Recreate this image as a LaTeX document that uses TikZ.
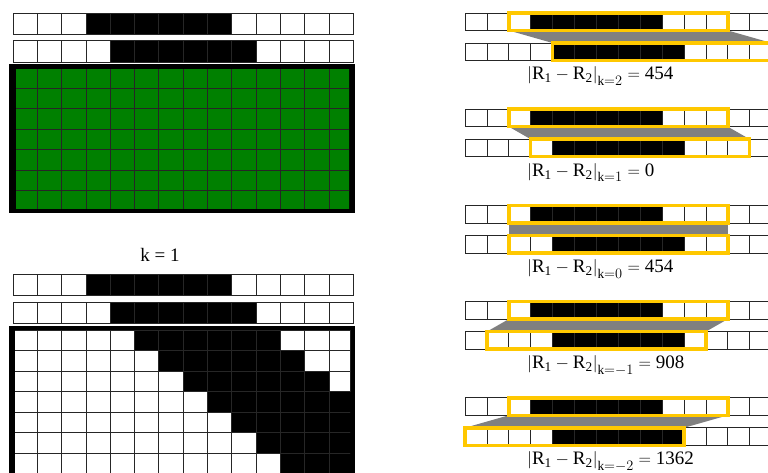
\documentclass[tikz,border=0pt]{standalone}
\usepackage{amsmath}
\usepackage{fontspec}
\setmainfont{Liberation Serif}
\usetikzlibrary{positioning}
\definecolor{cGreen} {HTML}{008000}
\definecolor{cYellow}{HTML}{FFC800}
\definecolor{cShade} {HTML}{808080}

% one row of 14 cells: x0, y0, cell width, cell height, first black, last black
\newcommand{\cellstrip}[6]{%
  \foreach \i in {0,...,13} {
    \pgfmathsetmacro{\xa}{#1+\i*#3}
    \ifnum\i<#5 \def\cfill{white}\else\ifnum\i>#6 \def\cfill{white}\else\def\cfill{black}\fi\fi
    \draw[cell, fill=\cfill] (\xa,#2) rectangle ++(#3,#4);
  }}

\begin{document}
\begin{tikzpicture}[x=1pt, y=-1pt,
      cell/.style  = {draw=black!85, line width=0.8pt},
      frame/.style = {fill=black},
      win/.style   = {draw=cYellow, line width=3.5pt},
      shade/.style = {fill=cShade},
      lbl/.style   = {font=\fontsize{19}{22}\selectfont, inner sep=0pt} ]
  \useasboundingbox (0,0) rectangle (768,473);

  % left, top: the two rows and the green grid
  \cellstrip{13}{13}{24.3}{21}{3}{8}
  \cellstrip{13}{40}{24.3}{22}{4}{9}
  \fill[frame] (9,64) rectangle (355,213);
  \begin{scope}
    \clip (16,70) rectangle (349,209);
    \foreach \j in {0,...,6}
      \foreach \i in {0,...,13}
        \draw[cell, fill=cGreen] (13+\i*24.3, 68+\j*20.4) rectangle ++(24.3,20.4);
  \end{scope}

  % left, bottom: k = 1
  \node[lbl] (klabel) at (160,255) {k = 1};
  \cellstrip{13}{274}{24.3}{21}{3}{8}
  \cellstrip{13}{302}{24.3}{21}{4}{9}
  \fill[frame] (9,326) rectangle (355,480);
  \begin{scope}
    \clip (15,330) rectangle (350,480);
    \foreach \j in {0,...,7}
      \foreach \i in {0,...,13} {
        \ifnum\i<\numexpr5+\j\relax \def\cfill{white}\else
          \ifnum\i>\numexpr10+\j\relax \def\cfill{white}\else\def\cfill{black}\fi\fi
        \draw[cell, fill=\cfill] (13+\i*24.3, 330+\j*20.5) rectangle ++(24.3,20.5);
      }
  \end{scope}

  % right: shifted windows for each k
  \foreach \k/\val [count=\p from 0] in {2/454,1/0,0/454,-1/908,-2/1362} {
    \pgfmathsetmacro{\yu}{13+96.2*\p}
    \pgfmathsetmacro{\yl}{\yu+30}
    \cellstrip{465}{\yu}{21.9}{17.5}{3}{8}
    \cellstrip{465}{\yl}{21.9}{17.5}{4}{9}
    \pgfmathsetmacro{\xu}{465+2*21.9}
    \pgfmathsetmacro{\xl}{\xu+\k*21.9}
    \fill[shade] (\xu,\yu+17.5) -- (\xu+219,\yu+17.5) -- (\xl+219,\yl) -- (\xl,\yl) -- cycle;
    \draw[win] (\xu,\yu) rectangle ++(219,17.5);
    \draw[win] (\xl,\yl) rectangle ++(219,17.5);
    \node[lbl, anchor=base west] (d\p) at (527,\yl+37)
      {$\left|\rule[-5pt]{0pt}{18pt}\text{R}_{\text{1}}-\text{R}_{\text{2}}\right|_{\text{k}=\k}=\text{\val}$};
  }
\end{tikzpicture}
\end{document}
